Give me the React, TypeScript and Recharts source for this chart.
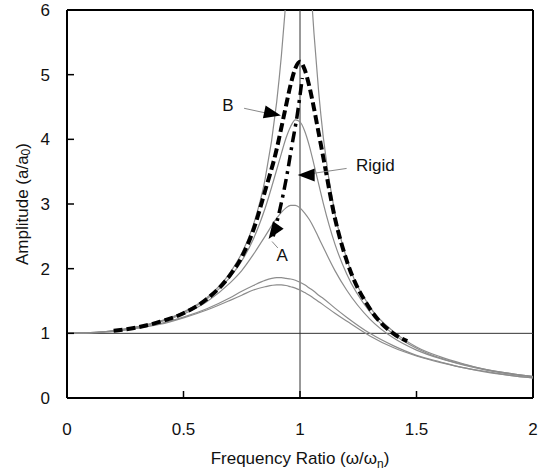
import {
  LineChart,
  Line,
  XAxis,
  YAxis,
  ReferenceLine,
  ReferenceDot,
} from 'recharts'

// frequency ratio samples shared by the thin grey response curves
const ratio = [
  0, 0.1, 0.2, 0.3, 0.4, 0.5, 0.6, 0.7, 0.75, 0.8, 0.85, 0.9, 0.92, 0.94, 0.96, 0.98, 1.0,
  1.02, 1.04, 1.06, 1.08, 1.1, 1.15, 1.2, 1.3, 1.4, 1.5, 1.6, 1.7, 1.8, 1.9, 2.0,
]

// grey curves, from the sharpest (leaves the top of the plot) to the flattest
const grey1 = [
  1, 1.01, 1.04, 1.1, 1.19, 1.33, 1.55, 1.94, 2.24, 2.68, 3.38, 4.58, 5.29, 6.17, 7.08, 8.06, 8.33,
  7.76, 6.71, 5.64, 4.74, 4.03, 2.85, 2.16, 1.41, 1.03, 0.79, 0.64, 0.53, 0.44, 0.38, 0.33,
]
const grey2 = [
  1, 1.01, 1.04, 1.1, 1.18, 1.32, 1.53, 1.87, 2.12, 2.46, 2.93, 3.53, 3.78, 4.02, 4.2, 4.3, 4.27,
  4.13, 3.9, 3.61, 3.31, 3.01, 2.38, 1.92, 1.33, 0.99, 0.77, 0.62, 0.52, 0.44, 0.38, 0.33,
]
const grey3 = [
  1, 1.01, 1.04, 1.09, 1.18, 1.3, 1.49, 1.78, 1.97, 2.22, 2.5, 2.78, 2.87, 2.94, 2.98, 2.98, 2.94,
  2.86, 2.76, 2.63, 2.48, 2.33, 1.97, 1.67, 1.22, 0.93, 0.74, 0.61, 0.51, 0.43, 0.37, 0.33,
]
const grey4 = [
  1, 1.01, 1.03, 1.08, 1.15, 1.25, 1.38, 1.55, 1.65, 1.74, 1.82, 1.86, 1.86, 1.85, 1.84, 1.82, 1.79,
  1.75, 1.7, 1.65, 1.59, 1.54, 1.39, 1.25, 1.0, 0.81, 0.66, 0.56, 0.47, 0.41, 0.35, 0.31,
]
const grey5 = [
  1, 1.01, 1.03, 1.08, 1.14, 1.24, 1.36, 1.51, 1.59, 1.67, 1.72, 1.75, 1.75, 1.74, 1.72, 1.7, 1.67,
  1.63, 1.59, 1.54, 1.49, 1.44, 1.31, 1.19, 0.96, 0.78, 0.65, 0.55, 0.47, 0.4, 0.35, 0.31,
]

// curve B (thick dashed)
const ratioB = [
  0.2, 0.3, 0.4, 0.5, 0.6, 0.7, 0.75, 0.8, 0.85, 0.9, 0.92, 0.94, 0.96, 0.98, 1.0, 1.02, 1.04,
  1.06, 1.08, 1.1, 1.15, 1.2, 1.3, 1.4, 1.46,
]
const ampB = [
  1.04, 1.09, 1.18, 1.31, 1.53, 1.9, 2.18, 2.6, 3.2, 3.85, 4.18, 4.52, 4.85, 5.1, 5.2, 5.08, 4.82,
  4.48, 4.1, 3.72, 2.78, 2.13, 1.38, 1.0, 0.88,
]

// curve A (dash-dot)
const ratioA = [0.885, 0.914, 0.944, 0.966, 0.987, 1.0, 1.01]
const ampA = [2.5, 2.92, 3.45, 3.92, 4.35, 4.68, 4.95]

const xTicks = [0, 0.5, 1, 1.5, 2]
const yTicks = [0, 1, 2, 3, 4, 5, 6]

const greyData = ratio.map((r, i) => ({
  r,
  g1: grey1[i],
  g2: grey2[i],
  g3: grey3[i],
  g4: grey4[i],
  g5: grey5[i],
}))
const dataB = ratioB.map((r, i) => ({ r, amp: ampB[i] }))
const dataA = ratioA.map((r, i) => ({ r, amp: ampA[i] }))

const FONT = '"Liberation Sans", Arial, sans-serif'

const YTick = (props: any) => {
  const { x, y, payload } = props
  return (
    <g>
      <line x1={x + 17} x2={x + 24} y1={y} y2={y} stroke="#000" strokeWidth={1.5} />
      <text x={x} y={y} dy="0.36em" textAnchor="end" fontSize={17} fontFamily={FONT} fill="#111">
        {payload.value}
      </text>
    </g>
  )
}

const XTick = (props: any) => {
  const { x, y, payload } = props
  return (
    <g>
      <line x1={x} x2={x} y1={y - 24} y2={y - 31} stroke="#000" strokeWidth={1.5} />
      <text x={x} y={y} dy="0.78em" textAnchor="middle" fontSize={17} fontFamily={FONT} fill="#111">
        {payload.value}
      </text>
    </g>
  )
}

const xTitle = (props: any) => {
  const vb = props.viewBox
  return (
    <text x={vb.x + vb.width / 2} y={vb.y + 66} textAnchor="middle" fontSize={17} fontFamily={FONT} fill="#111">
      Frequency Ratio (ω/ω
      <tspan dy={4} fontSize={12}>n</tspan>
      <tspan dy={-4}>)</tspan>
    </text>
  )
}

const yTitle = (props: any) => {
  const vb = props.viewBox
  const cx = 22
  const cy = vb.y + vb.height / 2
  return (
    <text
      x={cx}
      y={cy}
      transform={`rotate(-90, ${cx}, ${cy})`}
      textAnchor="middle"
      dominantBaseline="central"
      fontSize={17}
      fontFamily={FONT}
      fill="#111"
    >
      Amplitude (a/a
      <tspan dy={4} fontSize={12}>0</tspan>
      <tspan dy={-4}>)</tspan>
    </text>
  )
}

const arrowHead = (angle: number) => (props: any) => (
  <polygon
    points="0,0 -17,-6.5 -17,6.5"
    transform={`translate(${props.cx},${props.cy}) rotate(${angle})`}
    fill="#000"
  />
)

const note = (text: string, anchor: 'start' | 'middle') => (props: any) => (
  <text
    x={props.cx}
    y={props.cy}
    dy="0.36em"
    textAnchor={anchor}
    fontSize={17}
    fontFamily={FONT}
    fill="#111"
  >
    {text}
  </text>
)

export default function App() {
  return (
    <div style={{ position: 'absolute', left: 0, top: 0, background: '#fff' }}>
      <LineChart width={547} height={475} margin={{ top: 10, right: 14, left: 7, bottom: 17 }}>
        <XAxis
          dataKey="r"
          type="number"
          domain={[0, 2]}
          ticks={xTicks}
          allowDuplicatedCategory={false}
          tickSize={0}
          tickMargin={24}
          tickLine={false}
          tick={<XTick />}
          height={60}
          stroke="#000"
          strokeWidth={2}
          label={xTitle}
        />
        <YAxis
          type="number"
          domain={[0, 6]}
          ticks={yTicks}
          allowDataOverflow
          tickSize={0}
          tickMargin={17}
          tickLine={false}
          tick={<YTick />}
          width={60}
          stroke="#000"
          strokeWidth={2}
          label={yTitle}
        />
        <ReferenceLine y={6} stroke="#000" strokeWidth={2} />
        <ReferenceLine x={2} stroke="#000" strokeWidth={2} />
        <ReferenceLine y={1} stroke="#333" strokeWidth={1} />
        <ReferenceLine x={1} stroke="#333" strokeWidth={1} />

        <Line data={greyData} dataKey="g1" type="monotone" stroke="#8c8c8c" strokeWidth={1.2} dot={false} isAnimationActive={false} />
        <Line data={greyData} dataKey="g2" type="monotone" stroke="#8c8c8c" strokeWidth={1.2} dot={false} isAnimationActive={false} />
        <Line data={greyData} dataKey="g3" type="monotone" stroke="#8c8c8c" strokeWidth={1.2} dot={false} isAnimationActive={false} />
        <Line data={greyData} dataKey="g4" type="monotone" stroke="#8c8c8c" strokeWidth={1.2} dot={false} isAnimationActive={false} />
        <Line data={greyData} dataKey="g5" type="monotone" stroke="#8c8c8c" strokeWidth={1.2} dot={false} isAnimationActive={false} />
        <Line
          data={dataB}
          dataKey="amp"
          type="monotone"
          stroke="#000"
          strokeWidth={4}
          strokeDasharray="9 4"
          dot={false}
          isAnimationActive={false}
        />
        <Line
          data={dataA}
          dataKey="amp"
          type="monotone"
          stroke="#000"
          strokeWidth={3.5}
          strokeDasharray="11 5 3 5"
          dot={false}
          isAnimationActive={false}
        />

        {/* annotations */}
        <ReferenceLine segment={[{ x: 0.76, y: 4.48 }, { x: 0.85, y: 4.41 }]} stroke="#888" strokeWidth={1} />
        <ReferenceDot x={0.918} y={4.37} shape={arrowHead(12)} />
        <ReferenceDot x={0.691} y={4.53} shape={note('B', 'middle')} />

        <ReferenceLine segment={[{ x: 1.05, y: 3.47 }, { x: 1.2, y: 3.55 }]} stroke="#888" strokeWidth={1} />
        <ReferenceDot x={0.99} y={3.45} shape={arrowHead(180)} />
        <ReferenceDot x={1.24} y={3.6} shape={note('Rigid', 'start')} />

        <ReferenceLine segment={[{ x: 0.88, y: 2.42 }, { x: 0.905, y: 2.32 }]} stroke="#888" strokeWidth={1} />
        <ReferenceDot x={0.865} y={2.46} shape={arrowHead(125)} />
        <ReferenceDot x={0.923} y={2.21} shape={note('A', 'middle')} />
      </LineChart>
    </div>
  )
}
